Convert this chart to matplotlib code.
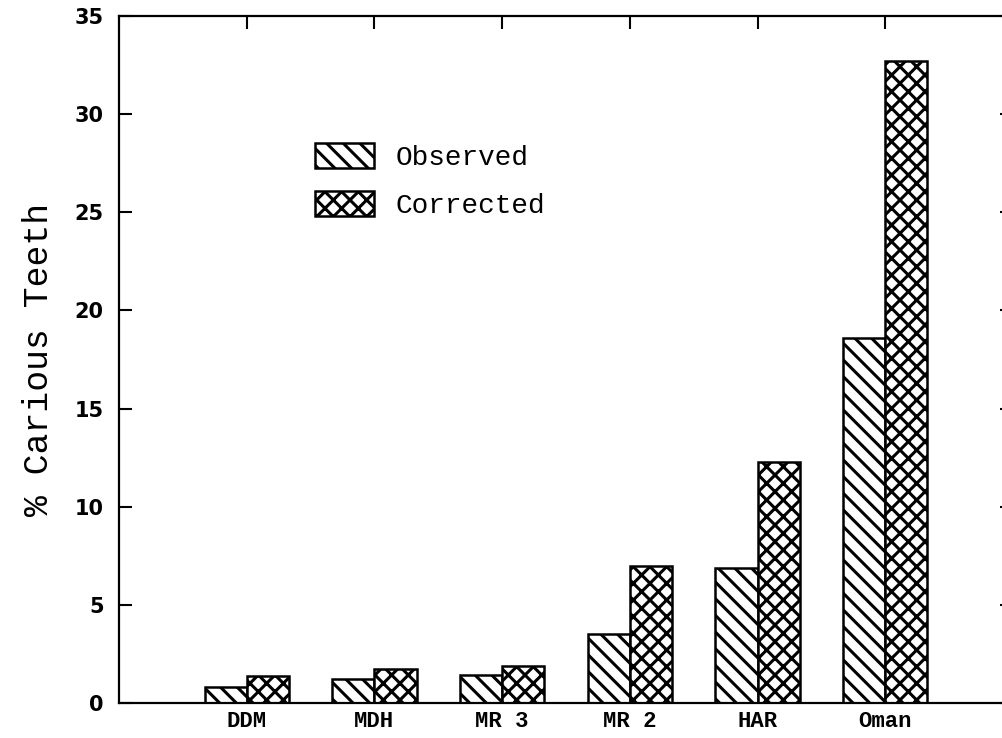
import matplotlib.pyplot as plt
import numpy as np

plt.rcParams['hatch.linewidth'] = 2.2

sites = ["DDM", "MDH", "MR 3", "MR 2", "HAR", "Oman"]
observed = [0.8, 1.2, 1.45, 3.5, 6.9, 18.6]
corrected = [1.4, 1.75, 1.9, 7.0, 12.3, 32.7]
yticks = [0, 5, 10, 15, 20, 25, 30, 35]

fig = plt.figure(figsize=(10.02, 7.38), dpi=100)
ax = fig.add_axes([119 / 1002, 35 / 738, 894 / 1002, 687 / 738])

x = np.arange(1, len(sites) + 1)
w = 0.33
ax.bar(x - w / 2, observed, w, facecolor='white', edgecolor='black',
       linewidth=1.8, hatch='\\\\', label='Observed')
ax.bar(x + w / 2, corrected, w, facecolor='white', edgecolor='black',
       linewidth=1.8, hatch='xx', label='Corrected')

ax.set_xlim(0, 7)
ax.set_ylim(0, 35)
ax.set_yticks(yticks)
ax.set_xticks(x)
ax.set_xticklabels(sites, family='Liberation Mono', fontweight='bold', fontsize=16)
for t in ax.get_yticklabels():
    t.set_fontweight('bold')
    t.set_fontsize(15)
    t.set_family('DejaVu Sans')

ax.tick_params(axis='y', direction='in', length=9.5, width=1.5, pad=11,
               left=True, right=True)
ax.tick_params(axis='x', direction='in', length=9.5, width=1.5, pad=6,
               bottom=False, top=True)
for s in ax.spines.values():
    s.set_linewidth(1.6)

ax.set_ylabel('% Carious Teeth', family='Liberation Mono', fontsize=25, labelpad=14)

ax.legend(loc='upper left', bbox_to_anchor=(0.204, 0.835), frameon=False,
          prop={'family': 'Liberation Mono', 'size': 20},
          handlelength=2.1, handleheight=1.0, handletextpad=0.8,
          labelspacing=0.72, borderpad=0)

fig.savefig('out.png', dpi=100)
